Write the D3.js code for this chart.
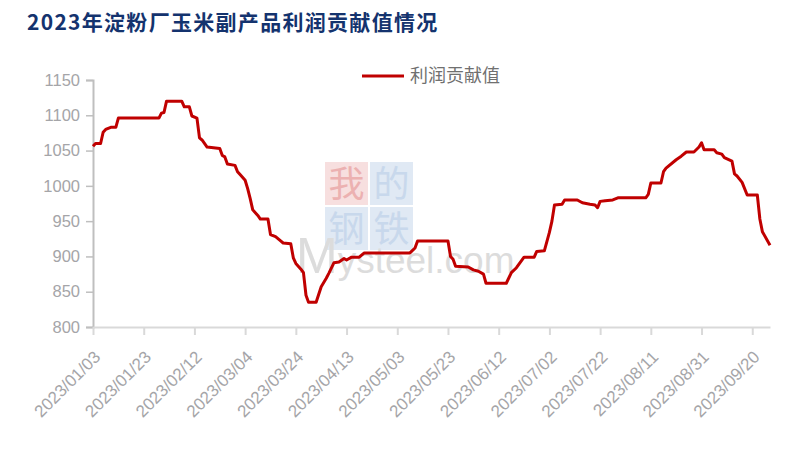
<!DOCTYPE html>
<html><head><meta charset="utf-8">
<script src="https://cdn.jsdelivr.net/npm/d3@7"></script>
<style>body{margin:0;background:#fff}svg{display:block}</style>
</head><body>
<script>
const title = "2023年淀粉厂玉米副产品利润贡献值情况";
const seriesName = "利润贡献值";
const dates = ["2023-01-03","2023-01-04","2023-01-06","2023-01-07","2023-01-08","2023-01-10","2023-01-12","2023-01-13","2023-01-29","2023-01-30","2023-01-31","2023-02-01","2023-02-07","2023-02-08","2023-02-10","2023-02-11","2023-02-13","2023-02-14","2023-02-15","2023-02-17","2023-02-22","2023-02-23","2023-02-24","2023-02-25","2023-02-28","2023-03-01","2023-03-02","2023-03-04","2023-03-05","2023-03-06","2023-03-07","2023-03-09","2023-03-10","2023-03-13","2023-03-14","2023-03-16","2023-03-18","2023-03-19","2023-03-22","2023-03-23","2023-03-24","2023-03-26","2023-03-27","2023-03-28","2023-03-29","2023-04-01","2023-04-03","2023-04-05","2023-04-06","2023-04-08","2023-04-10","2023-04-12","2023-04-13","2023-04-15","2023-04-18","2023-04-20","2023-05-08","2023-05-10","2023-05-11","2023-05-23","2023-05-24","2023-05-25","2023-05-26","2023-05-31","2023-06-02","2023-06-04","2023-06-06","2023-06-07","2023-06-15","2023-06-17","2023-06-19","2023-06-20","2023-06-22","2023-06-26","2023-06-27","2023-06-30","2023-07-02","2023-07-03","2023-07-04","2023-07-07","2023-07-08","2023-07-13","2023-07-15","2023-07-18","2023-07-20","2023-07-21","2023-07-22","2023-07-24","2023-07-27","2023-07-29","2023-08-09","2023-08-10","2023-08-11","2023-08-15","2023-08-16","2023-08-17","2023-08-21","2023-08-23","2023-08-25","2023-08-28","2023-08-30","2023-08-31","2023-09-01","2023-09-05","2023-09-06","2023-09-08","2023-09-09","2023-09-12","2023-09-13","2023-09-14","2023-09-16","2023-09-18","2023-09-22","2023-09-23","2023-09-24","2023-09-27"];
const values = [1056,1060,1060,1076,1080,1083,1083,1096,1096,1103,1104,1120,1120,1112,1112,1099,1096,1068,1065,1055,1053,1043,1041,1031,1029,1020,1016,1008,996,982,966,958,953,953,931,928,922,919,918,898,890,882,877,845,835,835,857,869,876,891,892,897,895,899,899,905,905,912,922,922,900,896,886,885,881,879,875,862,862,877,884,889,899,899,907,908,934,950,973,974,980,980,976,974,973,969,978,979,980,983,983,988,1004,1004,1020,1025,1037,1042,1048,1048,1055,1061,1051,1051,1047,1045,1040,1035,1017,1014,1005,987,987,953,935,916];
const xTickLabels = ["2023/01/03","2023/01/23","2023/02/12","2023/03/04","2023/03/24","2023/04/13","2023/05/03","2023/05/23","2023/06/12","2023/07/02","2023/07/22","2023/08/11","2023/08/31","2023/09/20"];
const yTicks = [800,850,900,950,1000,1050,1100,1150];

const W = 792, H = 451;
const parse = d3.timeParse("%Y-%m-%d");
const parseTick = d3.timeParse("%Y/%m/%d");
const data = dates.map((d,i)=>({date:parse(d), value:values[i]}));

const svg = d3.select("body").append("svg").attr("width",W).attr("height",H);

const x = d3.scaleTime().domain([parse("2023-01-03"), parse("2023-09-27")]).range([93, 770]);
const y = d3.scaleLinear().domain([800,1150]).range([327, 80]);

// title
svg.append("text").attr("x",27).attr("y",30)
  .attr("font-family","'Noto Sans CJK SC','Noto Sans',sans-serif")
  .attr("font-weight","bold").attr("font-size",21).attr("letter-spacing",1.3)
  .attr("fill","#14336e").text(title);

// watermark
const wm = svg.append("g").attr("opacity",0.9);
const boxes = [
  {x:325,y:162,bg:"#f7dcdc",fg:"#eaa9a9",t:"我"},
  {x:370,y:162,bg:"#dde7f3",fg:"#c3d4ea",t:"的"},
  {x:325,y:207,bg:"#dde7f3",fg:"#c3d4ea",t:"钢"},
  {x:370,y:207,bg:"#dde7f3",fg:"#c3d4ea",t:"铁"}
];
boxes.forEach(b=>{
  wm.append("rect").attr("x",b.x).attr("y",b.y).attr("width",43).attr("height",43).attr("fill",b.bg);
  wm.append("text").attr("x",b.x+21.5).attr("y",b.y+35).attr("text-anchor","middle")
    .attr("font-family","'Noto Sans CJK SC',sans-serif").attr("font-size",36).attr("fill",b.fg).text(b.t);
});
const mt = wm.append("text").attr("x",296).attr("y",273).attr("fill","#d9d9d9")
  .attr("font-family","'Liberation Sans',Arial,sans-serif");
mt.append("tspan").attr("font-size",50).text("M");
mt.append("tspan").attr("font-size",37).text("ysteel.com");

// axes
const axisFont = "'Liberation Sans',Arial,sans-serif";
const gy = svg.append("g").attr("transform","translate(93,0)")
  .call(d3.axisLeft(y).tickValues(yTicks).tickSize(7).tickPadding(6).tickFormat(d3.format("d")));
gy.select(".domain").attr("stroke","#bfbfbf").attr("stroke-width",2);
gy.selectAll(".tick line").attr("stroke","#bfbfbf").attr("stroke-width",1.5);
gy.selectAll(".tick text").attr("font-family",axisFont).attr("font-size",16.5).attr("fill","#a5a5a8");

const tickDates = xTickLabels.map(parseTick);
const gx = svg.append("g").attr("transform","translate(0,327)")
  .call(d3.axisBottom(x).tickValues(tickDates).tickSize(8).tickSizeOuter(0).tickFormat((d,i)=>xTickLabels[i]));
gx.select(".domain").attr("stroke","#d9d9d9").attr("stroke-width",2);
gx.selectAll(".tick line").attr("stroke","#d9d9d9").attr("stroke-width",2);
gx.selectAll(".tick text").attr("font-family",axisFont).attr("font-size",17).attr("fill","#a5a5a8")
  .attr("text-anchor","end").attr("dy",0).attr("y",0)
  .attr("transform","translate(8,31) rotate(-45)");

// line
svg.append("path").datum(data)
  .attr("fill","none").attr("stroke","#c00000").attr("stroke-width",3).attr("stroke-linejoin","round")
  .attr("d", d3.line().x(d=>x(d.date)).y(d=>y(d.value)));

// legend
svg.append("line").attr("x1",362).attr("x2",404).attr("y1",76).attr("y2",76)
  .attr("stroke","#c00000").attr("stroke-width",3);
svg.append("text").attr("x",410).attr("y",82)
  .attr("font-family","'Noto Sans CJK SC',sans-serif").attr("font-size",18).attr("fill","#707070").text(seriesName);
</script>
</body></html>
